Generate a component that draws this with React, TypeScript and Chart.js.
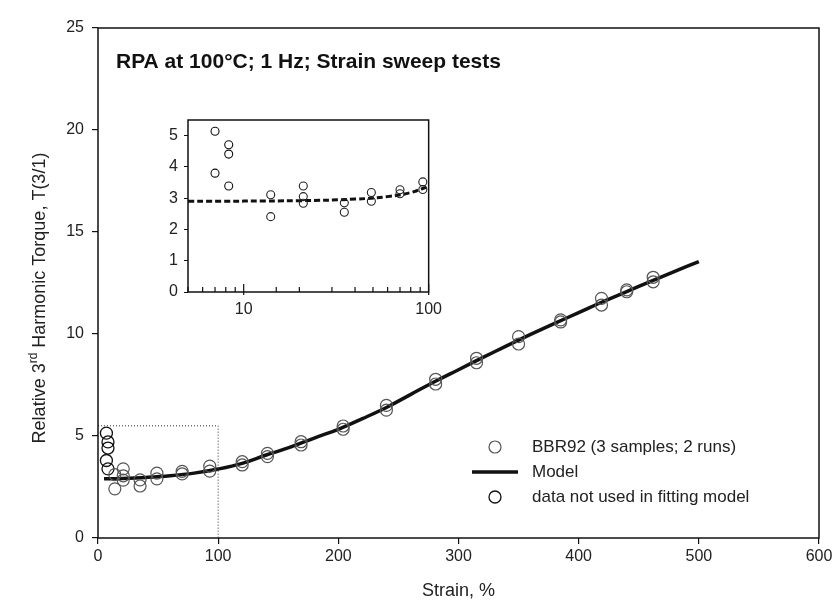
import React, { useEffect, useRef } from "react";
import { Chart, registerables } from "chart.js";
Chart.register(...registerables);

// ---- data ----
const fitStrain = [14, 14, 21, 21, 21, 35, 35, 49, 49, 70, 70, 93, 93, 120, 120, 141, 141, 169, 169, 204, 204, 240, 240, 281, 281, 315, 315, 350, 350, 385, 385, 419, 419, 440, 440, 462, 462];
const fitTorque = [3.11, 2.41, 3.39, 3.05, 2.84, 2.85, 2.55, 3.18, 2.9, 3.27, 3.14, 3.52, 3.28, 3.74, 3.58, 4.15, 3.99, 4.72, 4.56, 5.49, 5.33, 6.5, 6.27, 7.78, 7.55, 8.81, 8.59, 9.87, 9.51, 10.69, 10.59, 11.75, 11.42, 12.16, 12.07, 12.78, 12.56];
const excludedStrain = [7, 7, 8.3, 8.3, 8.3];
const excludedTorque = [5.14, 3.8, 4.71, 4.41, 3.39];
const modelStrain = [5, 20, 40, 60, 80, 100, 120, 140, 160, 180, 200, 220, 240, 260, 280, 300, 320, 340, 360, 380, 400, 420, 440, 460, 480, 500];
const modelTorque = [2.9, 2.92, 2.97, 3.05, 3.18, 3.38, 3.66, 4.07, 4.45, 4.9, 5.33, 5.85, 6.4, 7.03, 7.66, 8.25, 8.84, 9.42, 9.98, 10.52, 11.05, 11.58, 12.08, 12.58, 13.07, 13.55];
const zoomBoxStrain = [0, 100, 100];
const zoomBoxTorque = [5.5, 5.5, 0];
const xTicksMain = [0, 100, 200, 300, 400, 500, 600];
const yTicksMain = [0, 5, 10, 15, 20, 25];
const insetYTicks = [0, 1, 2, 3, 4, 5];
const insetXLabels = [10, 100];

const FONT = '"Liberation Sans", Arial, sans-serif';

const pts = (xs: number[], ys: number[]) => xs.map((x, i) => ({ x, y: ys[i] }));

function MainChart() {
  const ref = useRef<HTMLCanvasElement>(null);
  useEffect(() => {
    const decor = {
      id: "decor",
      afterDraw(chart: any) {
        const { ctx, chartArea: a } = chart;
        ctx.save();
        ctx.strokeStyle = "#111";
        ctx.lineWidth = 1.5;
        ctx.strokeRect(a.left, a.top, a.right - a.left, a.bottom - a.top);
        // title
        ctx.fillStyle = "#111";
        ctx.font = `bold 21px ${FONT}`;
        ctx.textBaseline = "alphabetic";
        ctx.textAlign = "left";
        ctx.fillText("RPA at 100°C; 1 Hz; Strain sweep tests", 116, 68);
        // x title
        ctx.font = `18px ${FONT}`;
        ctx.textAlign = "center";
        ctx.textBaseline = "middle";
        ctx.fillStyle = "#222";
        ctx.fillText("Strain, %", (a.left + a.right) / 2, 591);
        // y title with superscript
        ctx.save();
        ctx.translate(38, 298);
        ctx.rotate(-Math.PI / 2);
        const p1 = "Relative 3";
        const p2 = "rd";
        const p3 = " Harmonic Torque, T(3/1)";
        ctx.font = `18px ${FONT}`;
        const w1 = ctx.measureText(p1).width;
        const w3 = ctx.measureText(p3).width;
        ctx.font = `12px ${FONT}`;
        const w2 = ctx.measureText(p2).width;
        const total = w1 + w2 + w3;
        let x = -total / 2;
        ctx.textAlign = "left";
        ctx.textBaseline = "alphabetic";
        ctx.font = `18px ${FONT}`;
        ctx.fillText(p1, x, 7);
        x += w1;
        ctx.font = `12px ${FONT}`;
        ctx.fillText(p2, x, -1);
        x += w2;
        ctx.font = `18px ${FONT}`;
        ctx.fillText(p3, x, 7);
        ctx.restore();
        // legend
        ctx.font = `17px ${FONT}`;
        ctx.textAlign = "left";
        ctx.textBaseline = "middle";
        ctx.fillStyle = "#222";
        const rows = [447, 472, 497];
        ctx.lineWidth = 1.2;
        ctx.strokeStyle = "#555";
        ctx.beginPath();
        ctx.arc(495, rows[0], 6, 0, Math.PI * 2);
        ctx.stroke();
        ctx.fillText("BBR92 (3 samples; 2 runs)", 532, rows[0]);
        ctx.strokeStyle = "#111";
        ctx.lineWidth = 3.5;
        ctx.beginPath();
        ctx.moveTo(472, rows[1]);
        ctx.lineTo(518, rows[1]);
        ctx.stroke();
        ctx.fillText("Model", 532, rows[1]);
        ctx.lineWidth = 1.3;
        ctx.strokeStyle = "#111";
        ctx.beginPath();
        ctx.arc(495, rows[2], 6, 0, Math.PI * 2);
        ctx.stroke();
        ctx.fillText("data not used in fitting model", 532, rows[2]);
        ctx.restore();
      },
    };
    const chart = new Chart(ref.current!, {
      type: "scatter",
      data: {
        datasets: [
          {
            label: "zoom box",
            data: pts(zoomBoxStrain, zoomBoxTorque),
            showLine: true,
            borderColor: "#333",
            borderWidth: 1,
            borderDash: [1, 2],
            pointRadius: 0,
          },
          {
            label: "BBR92 (3 samples; 2 runs)",
            data: pts(fitStrain, fitTorque),
            pointStyle: "circle",
            pointRadius: 6,
            pointBorderWidth: 1.2,
            borderColor: "#555",
            backgroundColor: "rgba(0,0,0,0)",
          },
          {
            label: "data not used in fitting model",
            data: pts(excludedStrain, excludedTorque),
            pointRadius: 6,
            pointBorderWidth: 1.3,
            borderColor: "#111",
            backgroundColor: "rgba(0,0,0,0)",
          },
          {
            label: "Model",
            data: pts(modelStrain, modelTorque),
            showLine: true,
            borderColor: "#111",
            borderWidth: 3.5,
            pointRadius: 0,
            tension: 0.4,
          },
        ],
      },
      options: {
        animation: false,
        responsive: false,
        layout: { padding: { left: 0, top: 28, right: 21, bottom: 0 } },
        plugins: { legend: { display: false }, tooltip: { enabled: false }, title: { display: false } },
        scales: {
          x: {
            type: "linear",
            min: 0,
            max: 600,
            afterFit: (s: any) => { s.height = 75; },
            afterBuildTicks: (s: any) => { s.ticks = xTicksMain.map((v) => ({ value: v })); },
            grid: { drawOnChartArea: false, drawTicks: true, tickLength: 6, color: "#111", lineWidth: 1.2 },
            border: { display: false },
            ticks: { color: "#222", font: { size: 16, family: FONT }, padding: 3, maxRotation: 0 },
          },
          y: {
            type: "linear",
            min: 0,
            max: 25,
            afterFit: (s: any) => { s.width = 98; },
            afterBuildTicks: (s: any) => { s.ticks = yTicksMain.map((v) => ({ value: v })); },
            grid: { drawOnChartArea: false, drawTicks: true, tickLength: 6, color: "#111", lineWidth: 1.2 },
            border: { display: false },
            ticks: { color: "#222", font: { size: 16, family: FONT }, padding: 8 },
          },
        },
      },
      plugins: [decor],
    });
    return () => chart.destroy();
  }, []);
  return (
    <canvas ref={ref} width={840} height={613} style={{ position: "absolute", left: 0, top: 0, width: 840, height: 613 }} />
  );
}

function InsetChart() {
  const ref = useRef<HTMLCanvasElement>(null);
  useEffect(() => {
    const decor = {
      id: "insetDecor",
      afterDraw(chart: any) {
        const { ctx, chartArea: a } = chart;
        const xs = chart.scales.x;
        ctx.save();
        ctx.strokeStyle = "#111";
        ctx.lineWidth = 1.5;
        ctx.strokeRect(a.left, a.top, a.right - a.left, a.bottom - a.top);
        ctx.lineWidth = 1.2;
        for (const t of xs.ticks) {
          const v = t.value;
          const px = xs.getPixelForValue(v);
          const major = insetXLabels.includes(v);
          ctx.beginPath();
          ctx.moveTo(px, a.bottom + (major ? 3 : 0));
          ctx.lineTo(px, a.bottom - (major ? 8 : 5));
          ctx.stroke();
        }
        ctx.restore();
      },
    };
    const insetFilter = (v: number) => v <= 100;
    const mS = modelStrain.filter(insetFilter);
    const mT = modelTorque.slice(0, mS.length);
    const fS = fitStrain.filter(insetFilter);
    const fT = fitTorque.slice(0, fS.length);
    const chart = new Chart(ref.current!, {
      type: "scatter",
      data: {
        datasets: [
          {
            label: "BBR92",
            data: pts(fS, fT),
            pointRadius: 4,
            pointBorderWidth: 1.1,
            borderColor: "#222",
            backgroundColor: "rgba(0,0,0,0)",
          },
          {
            label: "excluded",
            data: pts(excludedStrain, excludedTorque),
            pointRadius: 4,
            pointBorderWidth: 1.1,
            borderColor: "#111",
            backgroundColor: "rgba(0,0,0,0)",
          },
          {
            label: "Model",
            data: pts(mS, mT),
            showLine: true,
            borderColor: "#111",
            borderWidth: 3,
            borderDash: [6, 3],
            pointRadius: 0,
            tension: 0.4,
          },
        ],
      },
      options: {
        animation: false,
        responsive: false,
        layout: { padding: { left: 0, top: 20, right: 18, bottom: 0 } },
        plugins: { legend: { display: false }, tooltip: { enabled: false } },
        scales: {
          x: {
            type: "logarithmic",
            min: 5,
            max: 100,
            afterFit: (s: any) => { s.height = 43; },
            grid: { drawOnChartArea: false, drawTicks: false },
            border: { display: false },
            ticks: {
              autoSkip: false,
              maxRotation: 0,
              padding: 8,
              color: "#222",
              font: { size: 16, family: FONT },
              callback: (v: any) => (insetXLabels.includes(Number(v)) ? String(v) : ""),
            },
          },
          y: {
            type: "linear",
            min: 0,
            max: 5.5,
            afterFit: (s: any) => { s.width = 48; },
            afterBuildTicks: (s: any) => { s.ticks = insetYTicks.map((v) => ({ value: v })); },
            grid: { drawOnChartArea: false, drawTicks: true, tickLength: 4, color: "#111" },
            border: { display: false },
            ticks: {
              autoSkip: false,
              padding: 6,
              color: "#222",
              font: { size: 16, family: FONT },
            },
          },
        },
      },
      plugins: [decor],
    });
    return () => chart.destroy();
  }, []);
  return (
    <canvas ref={ref} width={310} height={235} style={{ position: "absolute", left: 140, top: 100, width: 310, height: 235 }} />
  );
}

export default function App() {
  return (
    <div style={{ position: "fixed", left: 0, top: 0, width: 840, height: 613, background: "#fff", fontFamily: FONT }}>
      <MainChart />
      <InsetChart />
    </div>
  );
}
